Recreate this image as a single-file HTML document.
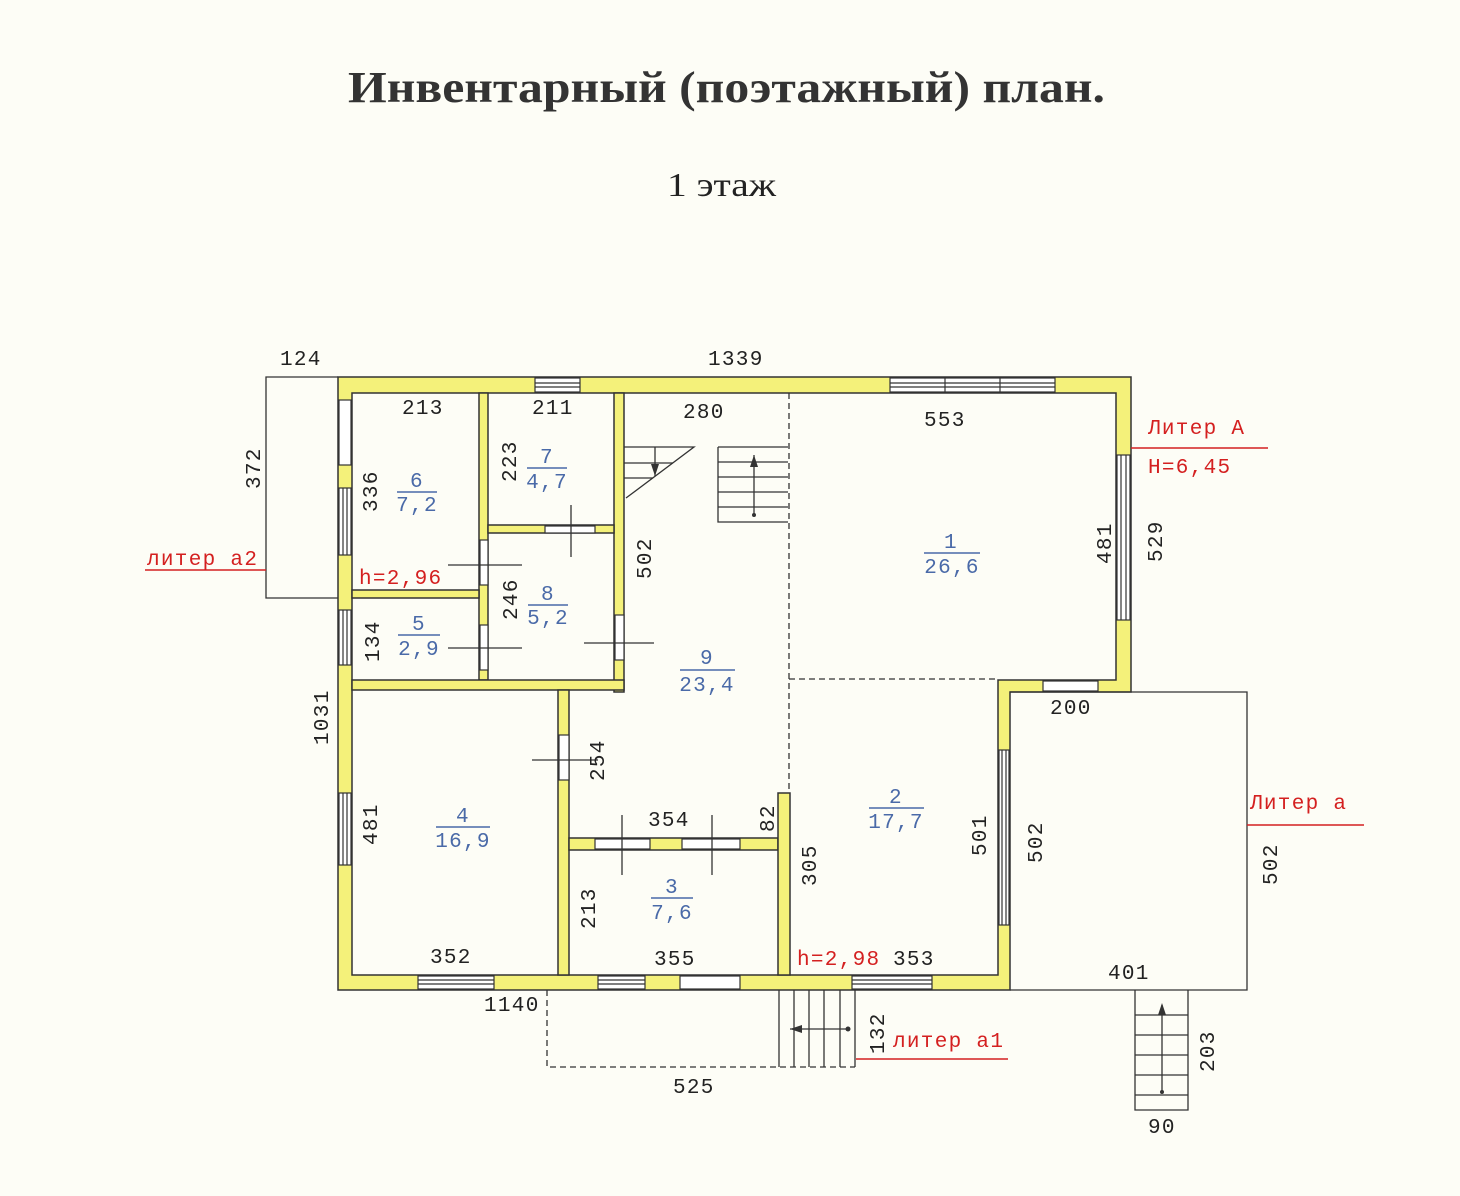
<!DOCTYPE html>
<html><head><meta charset="utf-8"><style>
html,body{margin:0;padding:0;background:#fdfdf6;}
svg{display:block}
.t{font-family:"Liberation Mono",monospace;font-size:21px;letter-spacing:1.3px;fill:#222}
.b{font-family:"Liberation Mono",monospace;font-size:21px;letter-spacing:1.3px;fill:#4a6aa8}
.r{font-family:"Liberation Mono",monospace;font-size:21px;letter-spacing:1.3px;fill:#d42020}
</style></head><body>
<svg width="1460" height="1196" viewBox="0 0 1460 1196" xmlns="http://www.w3.org/2000/svg">
<rect width="1460" height="1196" fill="#fdfdf6"/>
<text x="348" y="102" textLength="757" lengthAdjust="spacingAndGlyphs" font-family="Liberation Serif,serif" font-weight="bold" font-size="44" fill="#333">Инвентарный (поэтажный) план.</text>
<text x="667" y="196" textLength="109" lengthAdjust="spacingAndGlyphs" font-family="Liberation Serif,serif" font-size="34" fill="#222">1 этаж</text>

<g fill="#f4f17a" stroke="#333" stroke-width="1.5">
<path d="M338 377 H1131 V692 H1010 V990 H338 Z M352 393 V975 H998 V680 H1116 V393 Z" fill-rule="evenodd"/>
<rect x="479" y="393" width="9" height="287"/>
<rect x="614" y="393" width="10" height="299"/>
<rect x="488" y="525" width="126" height="8"/>
<rect x="352" y="590" width="127" height="8"/>
<rect x="352" y="680" width="272" height="10"/>
<rect x="558" y="690" width="11" height="285"/>
<rect x="569" y="838" width="209" height="12"/>
<rect x="778" y="793" width="12" height="182"/>
</g>
<g fill="#fff" stroke="#333" stroke-width="1.2">
<rect x="535" y="378" width="45" height="14"/><line x1="535" y1="383" x2="580" y2="383"/><line x1="535" y1="387" x2="580" y2="387"/>
<rect x="890" y="378" width="165" height="14"/><line x1="890" y1="383" x2="1055" y2="383"/><line x1="890" y1="387" x2="1055" y2="387"/><line x1="945" y1="378" x2="945" y2="392"/><line x1="1000" y1="378" x2="1000" y2="392"/>
<rect x="339" y="400" width="12" height="65"/>
<rect x="339" y="488" width="12" height="67"/><line x1="343" y1="488" x2="343" y2="555"/><line x1="347" y1="488" x2="347" y2="555"/>
<rect x="339" y="610" width="12" height="55"/><line x1="343" y1="610" x2="343" y2="665"/><line x1="347" y1="610" x2="347" y2="665"/>
<rect x="339" y="793" width="12" height="72"/><line x1="343" y1="793" x2="343" y2="865"/><line x1="347" y1="793" x2="347" y2="865"/>
<rect x="1117" y="455" width="13" height="165"/><line x1="1121" y1="455" x2="1121" y2="620"/><line x1="1126" y1="455" x2="1126" y2="620"/>
<rect x="999" y="750" width="10" height="175"/><line x1="1002" y1="750" x2="1002" y2="925"/><line x1="1006" y1="750" x2="1006" y2="925"/>
<rect x="1043" y="681" width="55" height="10"/>
<rect x="418" y="976" width="76" height="13"/><line x1="418" y1="980" x2="494" y2="980"/><line x1="418" y1="984" x2="494" y2="984"/>
<rect x="598" y="976" width="47" height="13"/><line x1="598" y1="980" x2="645" y2="980"/><line x1="598" y1="984" x2="645" y2="984"/>
<rect x="680" y="976" width="60" height="13"/>
<rect x="852" y="976" width="80" height="13"/><line x1="852" y1="980" x2="932" y2="980"/><line x1="852" y1="984" x2="932" y2="984"/>
<rect x="595" y="839" width="55" height="10"/><rect x="682" y="839" width="58" height="10"/>
<rect x="545" y="526" width="50" height="7"/>
<rect x="480" y="540" width="8" height="45"/><rect x="480" y="625" width="8" height="45"/>
<rect x="615" y="615" width="9" height="45"/><rect x="559" y="735" width="10" height="45"/>
</g>
<g stroke="#333" stroke-width="1.3">
<line x1="571" y1="505" x2="571" y2="557"/><line x1="448" y1="565" x2="522" y2="565"/><line x1="448" y1="648" x2="522" y2="648"/>
<line x1="584" y1="643" x2="654" y2="643"/><line x1="532" y1="760" x2="598" y2="760"/>
<line x1="622" y1="815" x2="622" y2="875"/><line x1="712" y1="815" x2="712" y2="875"/>
</g>
<g stroke="#333" stroke-width="1.3" stroke-dasharray="6,4" fill="none">
<line x1="789" y1="393" x2="789" y2="793"/><line x1="789" y1="679" x2="998" y2="679"/>
<path d="M547 990 V1067 H855"/>
</g>
<g stroke="#333" stroke-width="1.3" fill="none">
<path d="M624 447 H694 L626 498"/><line x1="624" y1="463" x2="673" y2="463"/><line x1="624" y1="478" x2="653" y2="478"/>
<line x1="655" y1="447" x2="655" y2="476"/>
<path d="M718 447 H788 M718 447 V522 H788"/><line x1="718" y1="462" x2="788" y2="462"/><line x1="718" y1="477" x2="788" y2="477"/><line x1="718" y1="492" x2="788" y2="492"/><line x1="718" y1="507" x2="788" y2="507"/>
<line x1="754" y1="455" x2="754" y2="515"/>
<path d="M338 377 H266 V598 H338"/>
<path d="M1010 692 H1247 V990 H1010"/>
<path d="M779 990 V1067 M855 990 V1067"/><line x1="794" y1="990" x2="794" y2="1067"/><line x1="809" y1="990" x2="809" y2="1067"/><line x1="824" y1="990" x2="824" y2="1067"/><line x1="840" y1="990" x2="840" y2="1067"/>
<line x1="790" y1="1029" x2="848" y2="1029"/>
<path d="M1135 990 V1110 H1188 V990"/><line x1="1135" y1="1015" x2="1188" y2="1015"/><line x1="1135" y1="1035" x2="1188" y2="1035"/><line x1="1135" y1="1055" x2="1188" y2="1055"/><line x1="1135" y1="1075" x2="1188" y2="1075"/><line x1="1135" y1="1095" x2="1188" y2="1095"/>
<line x1="1162" y1="1005" x2="1162" y2="1092"/>
</g>
<g fill="#333"><path d="M655 476 l-4 -12 h8z"/><path d="M754 455 l-4 12 h8z"/><path d="M790 1029 l12 -4 v8z"/><path d="M1162 1003 l-4 12 h8z"/><circle cx="754" cy="515" r="2"/><circle cx="848" cy="1029" r="2.5"/><circle cx="1162" cy="1092" r="2"/></g>
<g stroke="#d42020" stroke-width="1.5">
<line x1="1131" y1="448" x2="1268" y2="448"/><line x1="145" y1="570" x2="266" y2="570"/><line x1="1247" y1="825" x2="1364" y2="825"/><line x1="856" y1="1059" x2="1008" y2="1059"/>
</g>
<g class="t">
<text x="280" y="365">124</text><text x="708" y="365">1339</text>
<text x="402" y="414">213</text><text x="532" y="414">211</text><text x="683" y="418">280</text><text x="924" y="426">553</text>
<text x="1050" y="714">200</text>
<text x="430" y="963">352</text><text x="648" y="826">354</text><text x="654" y="965">355</text><text x="893" y="965">353</text>
<text x="1108" y="979">401</text><text x="484" y="1011">1140</text><text x="673" y="1093">525</text><text x="1148" y="1133">90</text>
</g>
<g class="t">
<text transform="translate(260,489) rotate(-90)">372</text>
<text transform="translate(377,512) rotate(-90)">336</text>
<text transform="translate(516,482) rotate(-90)">223</text>
<text transform="translate(517,620) rotate(-90)">246</text>
<text transform="translate(379,662) rotate(-90)">134</text>
<text transform="translate(651,579) rotate(-90)">502</text>
<text transform="translate(1111,564) rotate(-90)">481</text>
<text transform="translate(1162,562) rotate(-90)">529</text>
<text transform="translate(328,745) rotate(-90)">1031</text>
<text transform="translate(604,781) rotate(-90)">254</text>
<text transform="translate(377,845) rotate(-90)">481</text>
<text transform="translate(774,832) rotate(-90)">82</text>
<text transform="translate(816,886) rotate(-90)">305</text>
<text transform="translate(595,929) rotate(-90)">213</text>
<text transform="translate(986,856) rotate(-90)">501</text>
<text transform="translate(1042,863) rotate(-90)">502</text>
<text transform="translate(1277,885) rotate(-90)">502</text>
<text transform="translate(884,1054) rotate(-90)">132</text>
<text transform="translate(1214,1072) rotate(-90)">203</text>
</g>
<g class="b" text-anchor="middle">
<text x="417" y="487">6</text><line x1="397" y1="492" x2="437" y2="492" stroke="#4a6aa8" stroke-width="1.5"/><text x="417" y="511">7,2</text>
<text x="547" y="463">7</text><line x1="527" y1="468" x2="567" y2="468" stroke="#4a6aa8" stroke-width="1.5"/><text x="547" y="488">4,7</text>
<text x="548" y="600">8</text><line x1="528" y1="605" x2="568" y2="605" stroke="#4a6aa8" stroke-width="1.5"/><text x="548" y="624">5,2</text>
<text x="419" y="630">5</text><line x1="398" y1="635" x2="440" y2="635" stroke="#4a6aa8" stroke-width="1.5"/><text x="419" y="655">2,9</text>
<text x="707" y="664">9</text><line x1="680" y1="670" x2="735" y2="670" stroke="#4a6aa8" stroke-width="1.5"/><text x="707" y="691">23,4</text>
<text x="951" y="548">1</text><line x1="924" y1="553" x2="980" y2="553" stroke="#4a6aa8" stroke-width="1.5"/><text x="952" y="573">26,6</text>
<text x="896" y="803">2</text><line x1="869" y1="808" x2="924" y2="808" stroke="#4a6aa8" stroke-width="1.5"/><text x="896" y="828">17,7</text>
<text x="463" y="822">4</text><line x1="436" y1="827" x2="490" y2="827" stroke="#4a6aa8" stroke-width="1.5"/><text x="463" y="847">16,9</text>
<text x="672" y="893">3</text><line x1="651" y1="898" x2="693" y2="898" stroke="#4a6aa8" stroke-width="1.5"/><text x="672" y="919">7,6</text>
</g>
<g class="r">
<text x="1148" y="434">Литер А</text><text x="1148" y="473">H=6,45</text>
<text x="147" y="565">литер а2</text><text x="359" y="584">h=2,96</text>
<text x="1250" y="809">Литер а</text><text x="797" y="965">h=2,98</text>
<text x="893" y="1047">литер а1</text>
</g>
</svg>
</body></html>
